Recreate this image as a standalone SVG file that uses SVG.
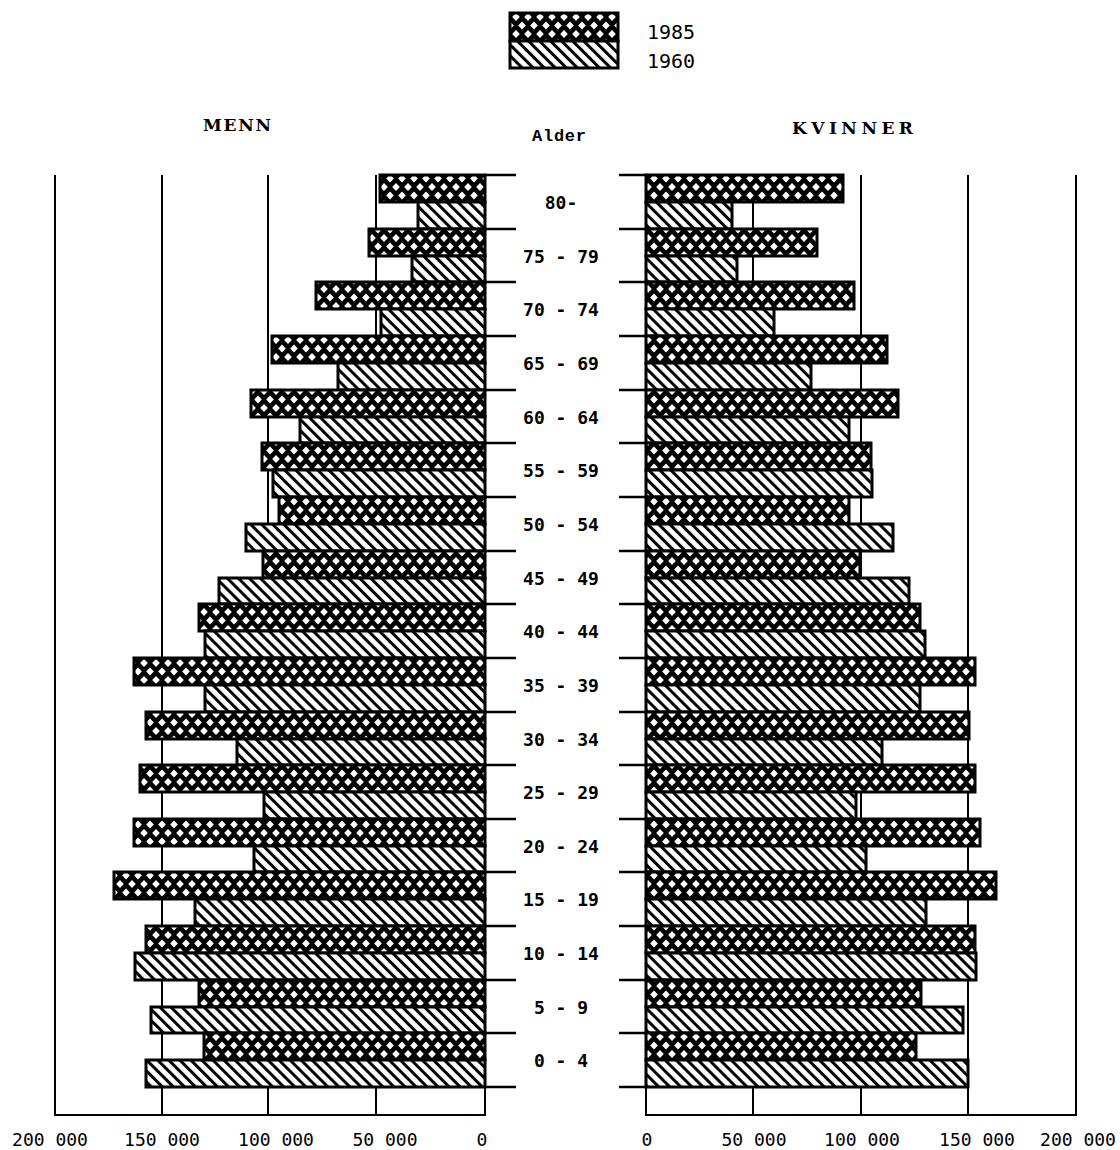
<svg xmlns="http://www.w3.org/2000/svg" width="1120" height="1150" viewBox="0 0 1120 1150">
<defs>
<pattern id="cross" patternUnits="userSpaceOnUse" width="12" height="17">
<rect width="12" height="17" fill="#000"/>
<polygon points="6,4.6 9.8,8.5 6,12.4 2.2,8.5" fill="#fff"/>
<polygon points="0,-3.9 3.8,0 0,3.9 -3.8,0" fill="#fff"/>
<polygon points="12,-3.9 15.8,0 12,3.9 8.2,0" fill="#fff"/>
<polygon points="0,13.1 3.8,17 0,20.9 -3.8,17" fill="#fff"/>
<polygon points="12,13.1 15.8,17 12,20.9 8.2,17" fill="#fff"/>
</pattern>
<pattern id="diag" patternUnits="userSpaceOnUse" width="7.8" height="10" patternTransform="rotate(-45)">
<rect width="7.8" height="10" fill="#fff"/>
<rect width="3" height="10" fill="#000"/>
</pattern>
</defs>
<style>
.grid{stroke:#000;stroke-width:2;fill:none}
.tick{stroke:#000;stroke-width:2.5}
.c{fill:url(#cross);stroke:#000;stroke-width:3}
.d{fill:url(#diag);stroke:#000;stroke-width:3}
.ax{font-family:"DejaVu Sans Mono","Liberation Mono",monospace;font-size:18px;fill:#000}
.age{font-family:"DejaVu Sans Mono","Liberation Mono",monospace;font-size:18px;font-weight:bold;fill:#000;text-anchor:middle}
.hd{font-family:"DejaVu Serif","Liberation Serif",serif;font-size:17px;font-weight:900;fill:#000}
.lg{font-family:"DejaVu Sans Mono","Liberation Mono",monospace;font-size:20px;fill:#000}
</style>
<rect width="1120" height="1150" fill="#fff"/>

<g id="legend">
<rect class="c" x="510" y="13" width="108" height="28"/>
<rect class="d" x="510" y="41" width="108" height="27"/>
<text class="lg" x="647" y="39">1985</text>
<text class="lg" x="647" y="68">1960</text>
</g>

<g id="headers">
<text class="hd" x="203" y="131" textLength="68" lengthAdjust="spacing">MENN</text>
<text class="hd" x="792" y="134" textLength="121" lengthAdjust="spacing">KVINNER</text>
<text x="532" y="141" font-family="Liberation Mono, DejaVu Sans Mono, monospace" font-size="17" font-weight="bold" textLength="54" lengthAdjust="spacing">Alder</text>
</g>

<g id="axes">
<path class="grid" d="M55,175V1115H485V175M162,175V1115M268,175V1115M376,175V1115"/>
<path class="grid" d="M646,175V1115H1076V175M753,175V1115M861,175V1115M968,175V1115"/>
</g>

<g id="ticks">
<path class="tick" d="M485,175H516M485,229H516M485,282H516M485,336H516M485,390H516M485,443H516M485,497H516M485,551H516M485,604H516M485,658H516M485,712H516M485,765H516M485,819H516M485,872H516M485,926H516M485,980H516M485,1033H516M485,1087H516"/>
<path class="tick" d="M619,175H646M619,229H646M619,282H646M619,336H646M619,390H646M619,443H646M619,497H646M619,551H646M619,604H646M619,658H646M619,712H646M619,765H646M619,819H646M619,872H646M619,926H646M619,980H646M619,1033H646M619,1087H646"/>
</g>

<g id="bars-menn">
<rect class="c" x="380" y="175" width="105" height="27"/><rect class="d" x="418" y="202" width="67" height="27"/>
<rect class="c" x="369" y="229" width="116" height="27"/><rect class="d" x="412" y="256" width="73" height="26"/>
<rect class="c" x="316" y="282" width="169" height="27"/><rect class="d" x="381" y="309" width="104" height="27"/>
<rect class="c" x="272" y="336" width="213" height="27"/><rect class="d" x="338" y="363" width="147" height="27"/>
<rect class="c" x="251" y="390" width="234" height="27"/><rect class="d" x="300" y="417" width="185" height="26"/>
<rect class="c" x="262" y="443" width="223" height="27"/><rect class="d" x="273" y="470" width="212" height="27"/>
<rect class="c" x="279" y="497" width="206" height="27"/><rect class="d" x="246" y="524" width="239" height="27"/>
<rect class="c" x="263" y="551" width="222" height="27"/><rect class="d" x="219" y="578" width="266" height="26"/>
<rect class="c" x="199" y="604" width="286" height="27"/><rect class="d" x="205" y="631" width="280" height="27"/>
<rect class="c" x="134" y="658" width="351" height="27"/><rect class="d" x="205" y="685" width="280" height="27"/>
<rect class="c" x="146" y="712" width="339" height="27"/><rect class="d" x="237" y="739" width="248" height="26"/>
<rect class="c" x="140" y="765" width="345" height="27"/><rect class="d" x="264" y="792" width="221" height="27"/>
<rect class="c" x="134" y="819" width="351" height="27"/><rect class="d" x="254" y="846" width="231" height="26"/>
<rect class="c" x="114" y="872" width="371" height="27"/><rect class="d" x="195" y="899" width="290" height="27"/>
<rect class="c" x="146" y="926" width="339" height="27"/><rect class="d" x="135" y="953" width="350" height="27"/>
<rect class="c" x="199" y="980" width="286" height="27"/><rect class="d" x="151" y="1007" width="334" height="26"/>
<rect class="c" x="204" y="1033" width="281" height="27"/><rect class="d" x="146" y="1060" width="339" height="27"/>
</g>

<g id="bars-kvinner">
<rect class="c" x="646" y="175" width="197" height="27"/><rect class="d" x="646" y="202" width="86" height="27"/>
<rect class="c" x="646" y="229" width="171" height="27"/><rect class="d" x="646" y="256" width="91" height="26"/>
<rect class="c" x="646" y="282" width="208" height="27"/><rect class="d" x="646" y="309" width="128" height="27"/>
<rect class="c" x="646" y="336" width="241" height="27"/><rect class="d" x="646" y="363" width="165" height="27"/>
<rect class="c" x="646" y="390" width="252" height="27"/><rect class="d" x="646" y="417" width="203" height="26"/>
<rect class="c" x="646" y="443" width="225" height="27"/><rect class="d" x="646" y="470" width="226" height="27"/>
<rect class="c" x="646" y="497" width="203" height="27"/><rect class="d" x="646" y="524" width="247" height="27"/>
<rect class="c" x="646" y="551" width="214" height="27"/><rect class="d" x="646" y="578" width="263" height="26"/>
<rect class="c" x="646" y="604" width="274" height="27"/><rect class="d" x="646" y="631" width="279" height="27"/>
<rect class="c" x="646" y="658" width="329" height="27"/><rect class="d" x="646" y="685" width="274" height="27"/>
<rect class="c" x="646" y="712" width="323" height="27"/><rect class="d" x="646" y="739" width="236" height="26"/>
<rect class="c" x="646" y="765" width="329" height="27"/><rect class="d" x="646" y="792" width="210" height="27"/>
<rect class="c" x="646" y="819" width="334" height="27"/><rect class="d" x="646" y="846" width="220" height="26"/>
<rect class="c" x="646" y="872" width="350" height="27"/><rect class="d" x="646" y="899" width="280" height="27"/>
<rect class="c" x="646" y="926" width="329" height="27"/><rect class="d" x="646" y="953" width="330" height="27"/>
<rect class="c" x="646" y="980" width="275" height="27"/><rect class="d" x="646" y="1007" width="317" height="26"/>
<rect class="c" x="646" y="1033" width="270" height="27"/><rect class="d" x="646" y="1060" width="322" height="27"/>
</g>

<g id="age-labels">
<text class="age" x="561" y="209">80-</text>
<text class="age" x="561" y="263">75 - 79</text>
<text class="age" x="561" y="316">70 - 74</text>
<text class="age" x="561" y="370">65 - 69</text>
<text class="age" x="561" y="424">60 - 64</text>
<text class="age" x="561" y="477">55 - 59</text>
<text class="age" x="561" y="531">50 - 54</text>
<text class="age" x="561" y="585">45 - 49</text>
<text class="age" x="561" y="638">40 - 44</text>
<text class="age" x="561" y="692">35 - 39</text>
<text class="age" x="561" y="746">30 - 34</text>
<text class="age" x="561" y="799">25 - 29</text>
<text class="age" x="561" y="853">20 - 24</text>
<text class="age" x="561" y="906">15 - 19</text>
<text class="age" x="561" y="960">10 - 14</text>
<text class="age" x="561" y="1014">5 - 9</text>
<text class="age" x="561" y="1067">0 - 4</text>
</g>

<g id="axis-labels" text-anchor="middle">
<text class="ax" x="50" y="1146">200 000</text>
<text class="ax" x="162" y="1146">150 000</text>
<text class="ax" x="276" y="1146">100 000</text>
<text class="ax" x="385" y="1146">50 000</text>
<text class="ax" x="482" y="1146">0</text>
<text class="ax" x="647" y="1146">0</text>
<text class="ax" x="754" y="1146">50 000</text>
<text class="ax" x="862" y="1146">100 000</text>
<text class="ax" x="977" y="1146">150 000</text>
<text class="ax" x="1078" y="1146">200 000</text>
</g>
</svg>
